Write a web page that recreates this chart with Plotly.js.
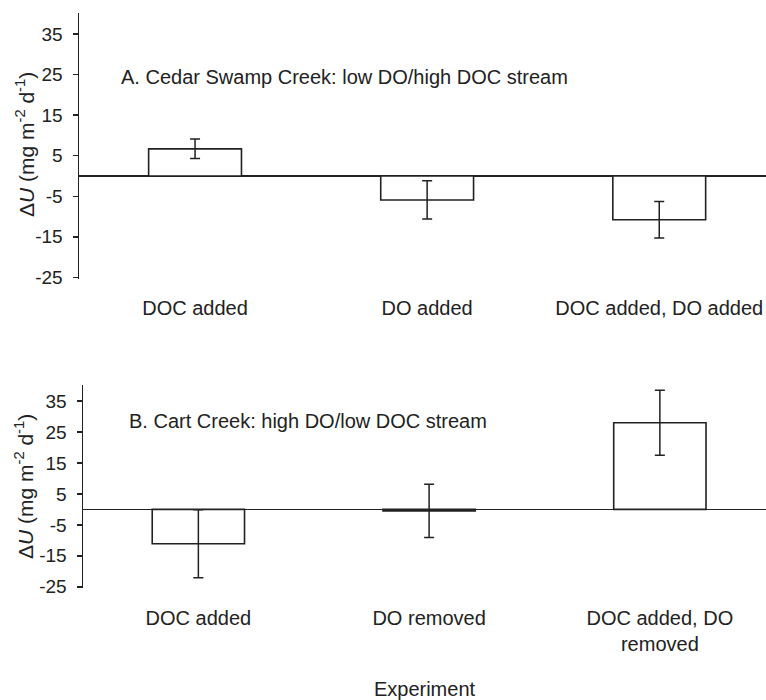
<!DOCTYPE html>
<html>
<head>
<meta charset="utf-8">
<script src="https://cdn.plot.ly/plotly-3.0.1.min.js"></script>
<style>html,body{margin:0;padding:0;background:#fff;}#chart{width:766px;height:700px;}</style>
</head>
<body>
<div id="chart"></div>
<script>
// Panel A: Cedar Swamp Creek
const categoriesA = ["DOC added", "DO added", "DOC added, DO added"];
const valuesA = [6.7, -5.9, -10.8];
const errorsA = [2.4, 4.7, 4.5];
// Panel B: Cart Creek
const categoriesB = ["DOC added", "DO removed", "DOC added, DO<br>removed"];
const valuesB = [-11.1, -0.5, 28.0];
const errorsB = [11.0, 8.6, 10.5];
const yTickVals = [-25, -15, -5, 5, 15, 25, 35];
const yTickText = ["-25", "-15", "-5", "5", "15", "25", "35"];
const yTitle = 'Δ<i>U</i> (mg m<sup>-2</sup> d<sup>-1</sup>)';

const ink = '#222';
const fontFam = 'Liberation Sans, Arial, sans-serif';

function barTrace(cats, vals, errs, xa, ya) {
  return {
    type: 'bar',
    x: cats.map((c, i) => i),
    y: vals,
    xaxis: xa, yaxis: ya,
    width: 0.4,
    marker: {color: '#ffffff', line: {color: ink, width: 1.6}},
    error_y: {type: 'data', array: errs, visible: true, color: ink, thickness: 1.5, width: 5},
    hoverinfo: 'skip',
    showlegend: false
  };
}

const data = [
  barTrace(categoriesA, valuesA, errorsA, 'x', 'y'),
  barTrace(categoriesB, valuesB, errorsB, 'x2', 'y2')
];

function yAxis(domain, anchor) {
  return {
    domain: domain, anchor: anchor,
    range: [-25.4, 40.2],
    tickvals: yTickVals, ticktext: yTickText,
    ticks: 'outside', ticklen: 5, tickwidth: 1.5, tickcolor: ink,
    showline: true, linecolor: ink, linewidth: 1.5,
    showgrid: false,
    zeroline: true, zerolinecolor: ink, zerolinewidth: 1.4,
    tickfont: {family: fontFam, size: 19, color: ink},
    ticklabelstandoff: 6,
    fixedrange: true
  };
}

function xAxis(domain, anchor, cats, standoff) {
  return {
    domain: domain, anchor: anchor,
    range: [-0.5, 2.46],
    tickvals: cats.map((c, i) => i), ticktext: cats,
    ticks: '', showline: false, showgrid: false, zeroline: false,
    tickfont: {family: fontFam, size: 20, color: ink},
    ticklabelstandoff: standoff,
    fixedrange: true
  };
}

const layout = {
  width: 766, height: 700,
  margin: {l: 0, r: 0, t: 0, b: 0},
  paper_bgcolor: '#fff', plot_bgcolor: '#fff',
  font: {family: fontFam, color: ink},
  xaxis: xAxis([79/766, 1], 'y', categoriesA, 15),
  yaxis: yAxis([1 - 279/700, 1 - 13/700], 'x'),
  xaxis2: Object.assign(xAxis([83/766, 1], 'y2', categoriesB, 16), {
    title: {text: 'Experiment', font: {family: fontFam, size: 20, color: ink}, standoff: 27}
  }),
  yaxis2: yAxis([1 - 588/700, 1 - 385/700], 'x2'),
  annotations: [
    {text: 'A. Cedar Swamp Creek: low DO/high DOC stream', xref: 'paper', yref: 'y', x: 119/766, y: 24.5,
     xanchor: 'left', yanchor: 'middle', showarrow: false, font: {family: fontFam, size: 20, color: ink}},
    {text: 'B. Cart Creek: high DO/low DOC stream', xref: 'paper', yref: 'y2', x: 127/766, y: 28.7,
     xanchor: 'left', yanchor: 'middle', showarrow: false, font: {family: fontFam, size: 20, color: ink}},
    {text: yTitle, textangle: -90, xref: 'paper', yref: 'paper', x: 25/766, y: 1 - 145/700,
     xanchor: 'center', yanchor: 'middle', showarrow: false, font: {family: fontFam, size: 21, color: ink}},
    {text: yTitle, textangle: -90, xref: 'paper', yref: 'paper', x: 24/766, y: 1 - 487/700,
     xanchor: 'center', yanchor: 'middle', showarrow: false, font: {family: fontFam, size: 21, color: ink}}
  ]
};

Plotly.newPlot('chart', data, layout, {displayModeBar: false, staticPlot: true});
</script>
</body>
</html>
